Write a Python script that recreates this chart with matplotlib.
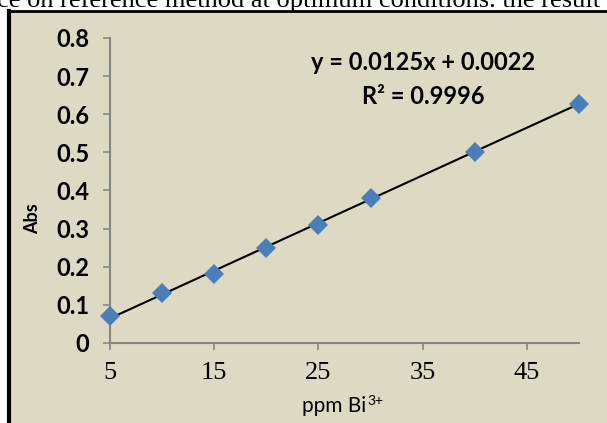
import numpy as np
import matplotlib.pyplot as plt
from matplotlib.patches import Rectangle
from matplotlib.lines import Line2D

# courbe d'etalonnage Bi3+
ppm = [5, 10, 15, 20, 25, 30, 40, 50]
absorb = [0.07, 0.13, 0.18, 0.25, 0.31, 0.38, 0.50, 0.627]
pente = 0.0125
ordonnee = 0.0022
r2 = 0.9996
xticks = [5, 15, 25, 35, 45]
yticks = [0, 0.1, 0.2, 0.3, 0.4, 0.5, 0.6, 0.7, 0.8]

W, H = 607, 423
fig = plt.figure(figsize=(W / 100, H / 100), dpi=100)
fig.patch.set_facecolor('white')

fond = '#DDD9C3'
# cadre du graphique
fig.patches.append(Rectangle((8 / W, -0.1), 1.1, 1 - 11.5 / H + 0.1, transform=fig.transFigure,
                             facecolor=fond, edgecolor='black', linewidth=2, zorder=-5))
fig.lines.append(Line2D([9 / W, 9 / W], [-0.1, 1 - 11 / H], transform=fig.transFigure,
                        color='black', linewidth=3, zorder=-4))

# texte du document au-dessus
fig.text(-3 / W, 1 - 7 / H, "ce on reference method at optimum conditions. the result",
         fontsize=19, family='Liberation Serif', va='baseline', ha='left')

ax = fig.add_axes([110 / W, 1 - 343 / H, (579 - 110) / W, (343 - 38) / H])
ax.set_facecolor('none')

x = np.array(ppm)
ax.plot(x, pente * x + ordonnee, color='black', lw=1.5, zorder=2)
ax.plot(ppm, absorb, 'D', color='#4A7EBB', markersize=10, markeredgewidth=0, zorder=3,
        clip_on=False)

ax.set_xlim(5, 50)
ax.set_ylim(0, 0.8)
ax.set_xticks(xticks)
ax.set_yticks(yticks)
ax.set_yticklabels(['0'] + ['%.1f' % v for v in yticks[1:]])

for s in ['top', 'right']:
    ax.spines[s].set_visible(False)
for s in ['left', 'bottom']:
    ax.spines[s].set_color('#868686')
    ax.spines[s].set_linewidth(1.5)

ax.tick_params(axis='both', color='#868686', width=1.2, length=5)
ax.tick_params(axis='x', pad=9)
ax.tick_params(axis='y', pad=10)
for lab in ax.get_yticklabels():
    lab.set_family('Lato')
    lab.set_fontweight('bold')
    lab.set_fontsize(17)
for lab in ax.get_xticklabels():
    lab.set_family('Liberation Serif')
    lab.set_fontsize(19)

# titre de l'axe x avec exposant
fig.text(366 / W, 1 - 412 / H, 'ppm Bi', family='Lato', fontsize=15,
         ha='right', va='baseline')
fig.text(367 / W, 1 - 405 / H, '3+', family='Lato', fontsize=10,
         ha='left', va='baseline')
fig.text(33 / W, 1 - 219 / H, 'Abs', rotation=90, family='Lato', fontweight='bold',
         fontsize=13, ha='center', va='center')

fig.text(423 / W, 1 - 63 / H, 'y = %.4fx + %.4f' % (pente, ordonnee), ha='center', va='center',
         family='Lato', fontweight='bold', fontsize=17)
fig.text(423 / W, 1 - 97 / H, 'R² = %.4f' % r2, ha='center', va='center',
         family='Lato', fontweight='bold', fontsize=17)

fig.savefig('out.png', dpi=100, facecolor='white')
